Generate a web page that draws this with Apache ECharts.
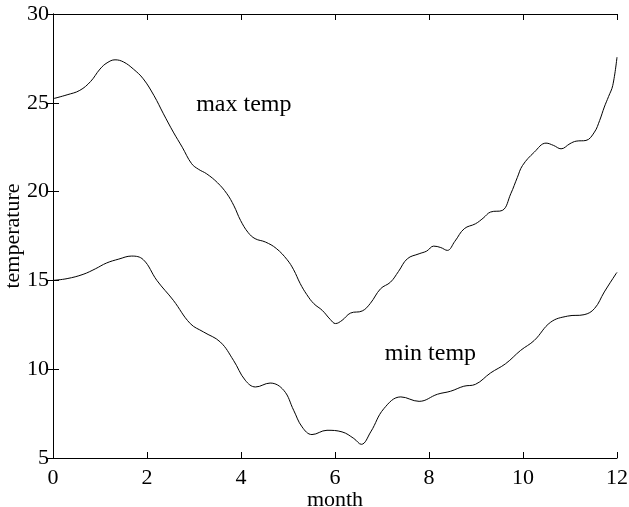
<!DOCTYPE html>
<html><head><meta charset="utf-8">
<script src="https://cdn.jsdelivr.net/npm/echarts@6/dist/echarts.min.js"></script>
<style>html,body{margin:0;padding:0;background:#fff}#c{width:629px;height:507px}</style>
</head><body><div id="c"></div>
<script>
const maxMonths = [0,0.3,0.57,0.8,1.0,1.15,1.32,1.5,1.71,1.92,2.15,2.35,2.56,2.75,2.95,3.1,3.27,3.5,3.7,3.85,3.99,4.15,4.3,4.52,4.75,4.98,5.12,5.26,5.4,5.55,5.73,5.9,6.01,6.15,6.33,6.58,6.75,6.97,7.18,7.35,7.54,7.79,7.95,8.1,8.25,8.39,8.55,8.75,8.99,9.15,9.31,9.56,9.74,9.88,9.99,10.24,10.49,10.65,10.81,11.0,11.13,11.34,11.52,11.63,11.73,11.82,11.91,12.0];
const maxTemps  = [25.23,25.45,25.7,26.2,26.9,27.25,27.42,27.3,26.9,26.35,25.4,24.38,23.35,22.5,21.57,21.25,21.0,20.5,19.88,19.2,18.38,17.7,17.35,17.16,16.8,16.17,15.6,14.82,14.2,13.69,13.31,12.8,12.57,12.75,13.16,13.28,13.7,14.53,14.9,15.5,16.22,16.5,16.65,16.93,16.85,16.69,17.2,17.91,18.19,18.5,18.85,18.94,19.88,20.8,21.47,22.22,22.73,22.6,22.41,22.7,22.84,22.88,23.35,24.0,24.76,25.35,25.98,27.57];
const minMonths = [0,0.3,0.64,0.9,1.14,1.4,1.67,1.92,2.21,2.56,2.92,3.2,3.56,3.84,4.09,4.31,4.62,4.91,5.12,5.3,5.51,5.83,6.15,6.4,6.56,6.76,7.04,7.4,7.79,8.18,8.46,8.74,8.99,9.31,9.63,9.95,10.24,10.59,10.95,11.3,11.52,11.73,11.98,12.0];
const minTemps  = [15.0,15.1,15.34,15.65,15.98,16.2,16.37,16.17,15.0,13.88,12.57,12.1,11.53,10.5,9.38,9.0,9.22,8.81,7.69,6.75,6.32,6.56,6.47,6.1,5.77,6.47,7.78,8.44,8.19,8.59,8.76,9.04,9.15,9.79,10.31,11.06,11.62,12.65,12.99,13.07,13.41,14.35,15.38,15.45];
const xTicks = [0,2,4,6,8,10,12];
const yTicks = [5,10,15,20,25,30];
const seriesNames = ['max temp','min temp'];
const labelPos = [[4.06,24.87],[8.03,10.9]];

const font = '"Liberation Serif","Times New Roman",serif';
const chart = echarts.init(document.getElementById('c'), null, {renderer:'canvas'});
const pairs = (xs, ys) => xs.map((x,i)=>[x, ys[i]]);
const axLine = {show:true, lineStyle:{color:'#000', width:1}};
const tick = {show:true, inside:true, length:6, lineStyle:{color:'#000'}};
const mk = (i) => ({
  symbol:'circle', symbolSize:0, silent:true,
  label:{show:true, position:'inside', formatter:seriesNames[i], color:'#000', fontFamily:font, fontSize:24},
  data:[{coord:labelPos[i]}]
});
chart.setOption({
  animation:false,
  backgroundColor:'#fff',
  grid:{left:53, right:12, top:14, bottom:49, containLabel:false, outerBoundsMode:'none'},
  xAxis:[
    {type:'value', min:0, max:12, interval:2, position:'bottom',
     name:'month', nameLocation:'middle', nameGap:31, nameMoveOverlap:false,
     nameTextStyle:{color:'#000', fontFamily:font, fontSize:22},
     axisLine:axLine, axisTick:tick, splitLine:{show:false},
     axisLabel:{color:'#000', fontFamily:font, fontSize:22, margin:9,
       formatter:v=>xTicks.includes(v)?String(v):''}},
    {type:'value', min:0, max:12, interval:2, position:'top',
     axisLine:axLine, axisTick:tick, splitLine:{show:false}, axisLabel:{show:false}}
  ],
  yAxis:[
    {type:'value', min:5, max:30, interval:5, position:'left',
     name:'temperature', nameLocation:'middle', nameGap:29, nameMoveOverlap:false,
     nameTextStyle:{color:'#000', fontFamily:font, fontSize:22},
     axisLine:axLine, axisTick:tick, splitLine:{show:false},
     axisLabel:{color:'#000', fontFamily:font, fontSize:22, margin:4,
       formatter:v=>yTicks.includes(v)?String(v):''}},
    {type:'value', min:5, max:30, interval:5, position:'right',
     axisLine:axLine, axisTick:tick, splitLine:{show:false}, axisLabel:{show:false}}
  ],
  series:[
    {name:seriesNames[0], type:'line', data:pairs(maxMonths,maxTemps), smooth:0.4, showSymbol:false,
     lineStyle:{color:'#000', width:1}, markPoint:mk(0)},
    {name:seriesNames[1], type:'line', data:pairs(minMonths,minTemps), smooth:0.4, showSymbol:false,
     lineStyle:{color:'#000', width:1}, markPoint:mk(1)}
  ]
});
</script></body></html>
